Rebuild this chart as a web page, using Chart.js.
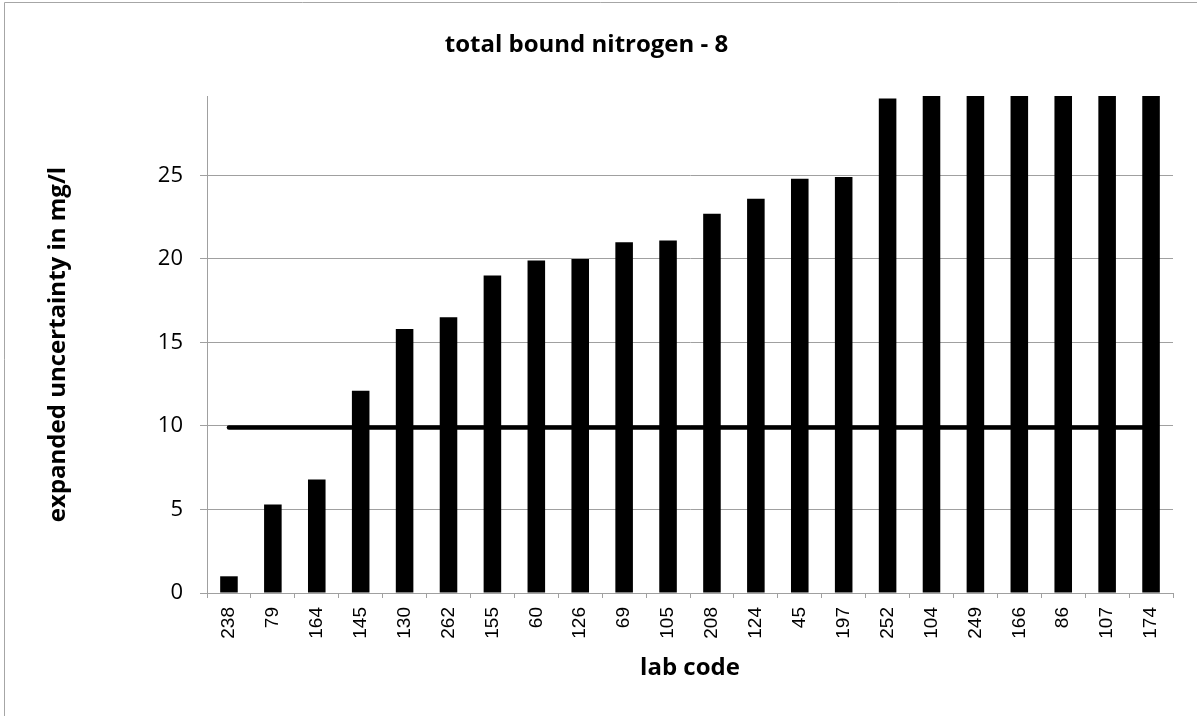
<!DOCTYPE html>
<html>
<head>
<meta charset="utf-8">
<script src="https://cdn.jsdelivr.net/npm/chart.js@4/dist/chart.umd.min.js"></script>
<style>
  html, body { margin: 0; padding: 0; background: #fff; }
  #wrap { width: 1197px; height: 716px; }
</style>
</head>
<body>
<div id="wrap"><canvas id="bar-chart" width="1197" height="716"></canvas></div>
<script>
// lab codes in plotted order
const labCodes = ['238', '79', '164', '145', '130', '262', '155', '60', '126', '69', '105',
    '208', '124', '45', '197', '252', '104', '249', '166', '86', '107', '174'];
// expanded uncertainty in mg/l (last bars run off the top of the axis)
const uncertainty = [1.0, 5.3, 6.8, 12.1, 15.8, 16.5, 19.0, 19.9, 20.0, 21.0, 21.1,
    22.7, 23.6, 24.8, 24.9, 29.6, 31, 32, 33, 34, 35, 36];
// reference limit line
const limit = [9.9, 9.9, 9.9, 9.9, 9.9, 9.9, 9.9, 9.9, 9.9, 9.9, 9.9,
    9.9, 9.9, 9.9, 9.9, 9.9, 9.9, 9.9, 9.9, 9.9, 9.9, 9.9];
const yMax = 29.75;
const yStep = 5;

const gridGrey = '#a0a0a0';
const calibriLike = '"Open Sans", Lato, sans-serif';

// light frame round the chart (top and left edges are visible)
const frame = {
    id: 'frame',
    beforeDraw(chart) {
        const c = chart.ctx;
        c.save();
        c.strokeStyle = '#a6a6a6';
        c.lineWidth = 1;
        c.beginPath();
        c.moveTo(4.5, 716);
        c.lineTo(4.5, 2.5);
        c.lineTo(1197, 2.5);
        c.stroke();
        c.restore();
    }
};

const ctx = document.getElementById('bar-chart');
const barChart = new Chart(ctx, {
    data: {
        labels: labCodes,
        datasets: [{
            type: 'line',
            label: 'limit',
            data: limit,
            borderColor: '#000',
            borderWidth: 4.5,
            borderCapStyle: 'round',
            pointRadius: 0,
            fill: false,
            order: 0
        }, {
            type: 'bar',
            label: 'expanded uncertainty',
            data: uncertainty,
            backgroundColor: '#000',
            barPercentage: 0.4,
            categoryPercentage: 1,
            clip: 0,
            order: 1
        }]
    },
    plugins: [frame],
    options: {
        responsive: false,
        animation: false,
        layout: {
            padding: { top: 0, left: 0, right: 24, bottom: 33.6 }
        },
        plugins: {
            legend: { display: false },
            tooltip: { enabled: false },
            title: {
                display: true,
                text: 'total bound nitrogen - 8',
                color: '#000',
                font: { family: calibriLike, size: 24, weight: 'bold' },
                padding: { top: 30.6, bottom: 36.6 }
            }
        },
        scales: {
            x: {
                offset: true,
                grid: {
                    offset: true,
                    drawOnChartArea: false,
                    drawTicks: true,
                    tickLength: 5,
                    color: gridGrey
                },
                border: { color: gridGrey },
                ticks: {
                    color: '#000',
                    minRotation: 90,
                    maxRotation: 90,
                    autoSkip: false,
                    padding: 9,
                    font: { family: 'Liberation Sans, Arial, sans-serif', size: 19 }
                },
                title: {
                    display: true,
                    text: 'lab code',
                    color: '#000',
                    font: { family: calibriLike, size: 24, weight: 'bold' },
                    padding: { top: 0, bottom: 0 }
                },
                afterFit(scale) { scale.height = 89.4; }
            },
            y: {
                min: 0,
                max: yMax,
                grid: {
                    color: gridGrey,
                    tickLength: 7
                },
                border: { color: gridGrey },
                ticks: {
                    stepSize: yStep,
                    includeBounds: false,
                    color: '#000',
                    padding: 17,
                    font: { family: calibriLike, size: 22 }
                },
                title: {
                    display: true,
                    text: 'expanded uncertainty in mg/l',
                    color: '#000',
                    font: { family: calibriLike, size: 24, weight: 'bold' },
                    padding: { top: 43.6, bottom: 0 }
                },
                afterFit(scale) { scale.width = 207; }
            }
        }
    }
});
</script>
</body>
</html>
